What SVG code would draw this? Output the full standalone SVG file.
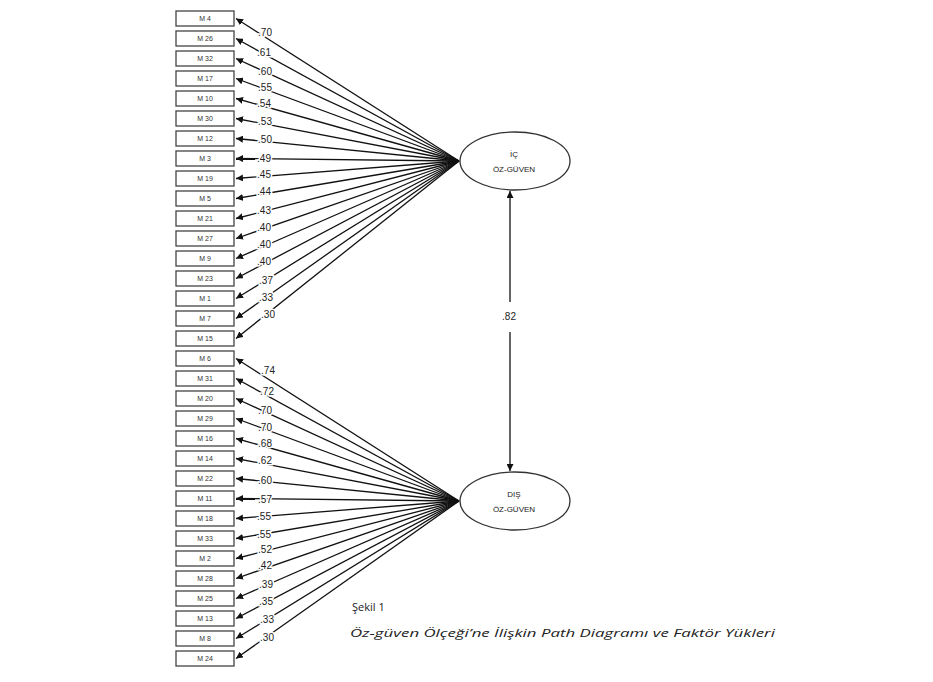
<svg xmlns="http://www.w3.org/2000/svg" width="933" height="682" viewBox="0 0 933 682">
<style>
.box{fill:#fff;stroke:#444;stroke-width:1.3}
.bl{font-family:"Liberation Sans",Arial,sans-serif;font-size:7px;fill:#333;text-anchor:middle}
.ln{stroke:#111;stroke-width:1.3;fill:none;marker-end:url(#ah)}
.lb{font-family:"Liberation Sans",Arial,sans-serif;font-size:10px;fill:#222;text-anchor:middle;stroke:#fff;stroke-width:3px;paint-order:stroke}
.el{fill:#fff;stroke:#333;stroke-width:1.3}
.et{font-family:"Liberation Sans",Arial,sans-serif;font-size:8px;fill:#222;text-anchor:middle}
.cap{font-family:"Open Sans","Liberation Sans",sans-serif;font-size:11px;fill:#222}
</style>
<defs>
<marker id="ah" viewBox="0 0 10 10" refX="10" refY="5" markerWidth="7" markerHeight="7" orient="auto" markerUnits="userSpaceOnUse">
<path d="M0,0 L10,5 L0,10 Z" fill="#111"/>
</marker>
</defs>
<rect width="933" height="682" fill="#fff"/>
<g id="connectors">
<line class="ln" x1="459" y1="161" x2="236" y2="18.5"/>
<line class="ln" x1="459" y1="161" x2="236" y2="38.5"/>
<line class="ln" x1="459" y1="161" x2="236" y2="58.5"/>
<line class="ln" x1="459" y1="161" x2="236" y2="78.5"/>
<line class="ln" x1="459" y1="161" x2="236" y2="98.5"/>
<line class="ln" x1="459" y1="161" x2="236" y2="118.5"/>
<line class="ln" x1="459" y1="161" x2="236" y2="138.5"/>
<line class="ln" x1="459" y1="161" x2="236" y2="158.5"/>
<line class="ln" x1="459" y1="161" x2="236" y2="178.5"/>
<line class="ln" x1="459" y1="161" x2="236" y2="198.5"/>
<line class="ln" x1="459" y1="161" x2="236" y2="218.5"/>
<line class="ln" x1="459" y1="161" x2="236" y2="238.5"/>
<line class="ln" x1="459" y1="161" x2="236" y2="258.5"/>
<line class="ln" x1="459" y1="161" x2="236" y2="278.5"/>
<line class="ln" x1="459" y1="161" x2="236" y2="298.5"/>
<line class="ln" x1="459" y1="161" x2="236" y2="318.5"/>
<line class="ln" x1="459" y1="161" x2="236" y2="338.5"/>
<line class="ln" x1="459" y1="501" x2="236" y2="358.5"/>
<line class="ln" x1="459" y1="501" x2="236" y2="378.5"/>
<line class="ln" x1="459" y1="501" x2="236" y2="398.5"/>
<line class="ln" x1="459" y1="501" x2="236" y2="418.5"/>
<line class="ln" x1="459" y1="501" x2="236" y2="438.5"/>
<line class="ln" x1="459" y1="501" x2="236" y2="458.5"/>
<line class="ln" x1="459" y1="501" x2="236" y2="478.5"/>
<line class="ln" x1="459" y1="501" x2="236" y2="498.5"/>
<line class="ln" x1="459" y1="501" x2="236" y2="518.5"/>
<line class="ln" x1="459" y1="501" x2="236" y2="538.5"/>
<line class="ln" x1="459" y1="501" x2="236" y2="558.5"/>
<line class="ln" x1="459" y1="501" x2="236" y2="578.5"/>
<line class="ln" x1="459" y1="501" x2="236" y2="598.5"/>
<line class="ln" x1="459" y1="501" x2="236" y2="618.5"/>
<line class="ln" x1="459" y1="501" x2="236" y2="638.5"/>
<line class="ln" x1="459" y1="501" x2="236" y2="658.5"/>
<line class="ln" x1="510" y1="302" x2="510" y2="191"/>
<line class="ln" x1="510" y1="332" x2="510" y2="471"/>
<text class="lb" x="265" y="36">.70</text>
<text class="lb" x="264" y="56">.61</text>
<text class="lb" x="265" y="75">.60</text>
<text class="lb" x="265" y="91">.55</text>
<text class="lb" x="264" y="107">.54</text>
<text class="lb" x="265" y="125">.53</text>
<text class="lb" x="265" y="143">.50</text>
<text class="lb" x="264" y="162">.49</text>
<text class="lb" x="264" y="178">.45</text>
<text class="lb" x="264" y="195">.44</text>
<text class="lb" x="264" y="214">.43</text>
<text class="lb" x="264" y="231">.40</text>
<text class="lb" x="264" y="248">.40</text>
<text class="lb" x="264" y="265">.40</text>
<text class="lb" x="266" y="284">.37</text>
<text class="lb" x="266" y="301">.33</text>
<text class="lb" x="268" y="318">.30</text>
<text class="lb" x="268" y="374">.74</text>
<text class="lb" x="267" y="395">.72</text>
<text class="lb" x="265" y="414">.70</text>
<text class="lb" x="265" y="431">.70</text>
<text class="lb" x="265" y="447">.68</text>
<text class="lb" x="265" y="464">.62</text>
<text class="lb" x="265" y="484">.60</text>
<text class="lb" x="265" y="503">.57</text>
<text class="lb" x="264" y="520">.55</text>
<text class="lb" x="264" y="538">.55</text>
<text class="lb" x="265" y="553">.52</text>
<text class="lb" x="265" y="569">.42</text>
<text class="lb" x="266" y="588">.39</text>
<text class="lb" x="266" y="605">.35</text>
<text class="lb" x="267" y="623">.33</text>
<text class="lb" x="267" y="641">.30</text>
<text class="lb" x="509" y="320">.82</text>
</g>
<g id="n-M4"><rect class="box" x="176" y="11" width="58" height="15"/><text class="bl" x="205" y="21">M 4</text></g>
<g id="n-M26"><rect class="box" x="176" y="31" width="58" height="15"/><text class="bl" x="205" y="41">M 26</text></g>
<g id="n-M32"><rect class="box" x="176" y="51" width="58" height="15"/><text class="bl" x="205" y="61">M 32</text></g>
<g id="n-M17"><rect class="box" x="176" y="71" width="58" height="15"/><text class="bl" x="205" y="81">M 17</text></g>
<g id="n-M10"><rect class="box" x="176" y="91" width="58" height="15"/><text class="bl" x="205" y="101">M 10</text></g>
<g id="n-M30"><rect class="box" x="176" y="111" width="58" height="15"/><text class="bl" x="205" y="121">M 30</text></g>
<g id="n-M12"><rect class="box" x="176" y="131" width="58" height="15"/><text class="bl" x="205" y="141">M 12</text></g>
<g id="n-M3"><rect class="box" x="176" y="151" width="58" height="15"/><text class="bl" x="205" y="161">M 3</text></g>
<g id="n-M19"><rect class="box" x="176" y="171" width="58" height="15"/><text class="bl" x="205" y="181">M 19</text></g>
<g id="n-M5"><rect class="box" x="176" y="191" width="58" height="15"/><text class="bl" x="205" y="201">M 5</text></g>
<g id="n-M21"><rect class="box" x="176" y="211" width="58" height="15"/><text class="bl" x="205" y="221">M 21</text></g>
<g id="n-M27"><rect class="box" x="176" y="231" width="58" height="15"/><text class="bl" x="205" y="241">M 27</text></g>
<g id="n-M9"><rect class="box" x="176" y="251" width="58" height="15"/><text class="bl" x="205" y="261">M 9</text></g>
<g id="n-M23"><rect class="box" x="176" y="271" width="58" height="15"/><text class="bl" x="205" y="281">M 23</text></g>
<g id="n-M1"><rect class="box" x="176" y="291" width="58" height="15"/><text class="bl" x="205" y="301">M 1</text></g>
<g id="n-M7"><rect class="box" x="176" y="311" width="58" height="15"/><text class="bl" x="205" y="321">M 7</text></g>
<g id="n-M15"><rect class="box" x="176" y="331" width="58" height="15"/><text class="bl" x="205" y="341">M 15</text></g>
<g id="n-M6"><rect class="box" x="176" y="351" width="58" height="15"/><text class="bl" x="205" y="361">M 6</text></g>
<g id="n-M31"><rect class="box" x="176" y="371" width="58" height="15"/><text class="bl" x="205" y="381">M 31</text></g>
<g id="n-M20"><rect class="box" x="176" y="391" width="58" height="15"/><text class="bl" x="205" y="401">M 20</text></g>
<g id="n-M29"><rect class="box" x="176" y="411" width="58" height="15"/><text class="bl" x="205" y="421">M 29</text></g>
<g id="n-M16"><rect class="box" x="176" y="431" width="58" height="15"/><text class="bl" x="205" y="441">M 16</text></g>
<g id="n-M14"><rect class="box" x="176" y="451" width="58" height="15"/><text class="bl" x="205" y="461">M 14</text></g>
<g id="n-M22"><rect class="box" x="176" y="471" width="58" height="15"/><text class="bl" x="205" y="481">M 22</text></g>
<g id="n-M11"><rect class="box" x="176" y="491" width="58" height="15"/><text class="bl" x="205" y="501">M 11</text></g>
<g id="n-M18"><rect class="box" x="176" y="511" width="58" height="15"/><text class="bl" x="205" y="521">M 18</text></g>
<g id="n-M33"><rect class="box" x="176" y="531" width="58" height="15"/><text class="bl" x="205" y="541">M 33</text></g>
<g id="n-M2"><rect class="box" x="176" y="551" width="58" height="15"/><text class="bl" x="205" y="561">M 2</text></g>
<g id="n-M28"><rect class="box" x="176" y="571" width="58" height="15"/><text class="bl" x="205" y="581">M 28</text></g>
<g id="n-M25"><rect class="box" x="176" y="591" width="58" height="15"/><text class="bl" x="205" y="601">M 25</text></g>
<g id="n-M13"><rect class="box" x="176" y="611" width="58" height="15"/><text class="bl" x="205" y="621">M 13</text></g>
<g id="n-M8"><rect class="box" x="176" y="631" width="58" height="15"/><text class="bl" x="205" y="641">M 8</text></g>
<g id="n-M24"><rect class="box" x="176" y="651" width="58" height="15"/><text class="bl" x="205" y="661">M 24</text></g>
<g id="n-ic"><ellipse class="el" cx="515" cy="161" rx="55" ry="29"/><text class="et" x="514" y="157">İÇ</text><text class="et" x="514" y="172">ÖZ-GÜVEN</text></g>
<g id="n-dis"><ellipse class="el" cx="515" cy="501" rx="55" ry="29"/><text class="et" x="514" y="497">DIŞ</text><text class="et" x="514" y="512">ÖZ-GÜVEN</text></g>
<g id="caption">
<text class="cap" x="352" y="611">Şekil 1</text>
<text class="cap" x="350" y="637" font-style="italic" font-size="12" textLength="425" lengthAdjust="spacingAndGlyphs">Öz-güven Ölçeği’ne İlişkin Path Diagramı ve Faktör Yükleri</text>
</g>
</svg>
